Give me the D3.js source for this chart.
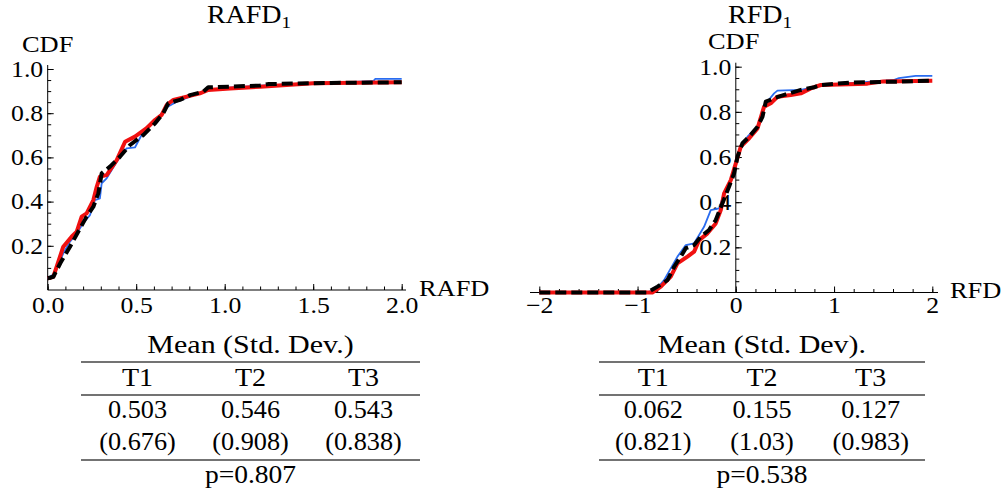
<!DOCTYPE html>
<html>
<head>
<meta charset="utf-8">
<script src="https://cdn.jsdelivr.net/npm/d3@7"></script>
<style>
  html, body { margin: 0; padding: 0; background: #fff; }
  svg { display: block; }
</style>
</head>
<body>
<svg id="chart" width="1004" height="494"></svg>
<script>
// ---------------- DATA ----------------
// RAFD empirical CDFs: [value, cdf]
const rafdT1 = [[0,0.053],[0.04,0.075],[0.088,0.166],[0.126,0.219],[0.164,0.256],[0.2,0.302],[0.239,0.339],[0.267,0.407],[0.295,0.415],[0.305,0.483],[0.333,0.505],[0.39,0.58],[0.446,0.641],[0.493,0.645],[0.54,0.716],[0.616,0.769],[0.663,0.822],[0.729,0.852],[0.804,0.875],[0.879,0.897],[0.92,0.905],[1.0,0.915],[1.2,0.925],[1.5,0.935],[1.84,0.945],[1.85,0.955],[2.0,0.955]];
const rafdT2 = [[0,0.053],[0.032,0.06],[0.088,0.196],[0.135,0.241],[0.164,0.264],[0.192,0.332],[0.22,0.347],[0.258,0.407],[0.277,0.467],[0.295,0.513],[0.333,0.52],[0.39,0.588],[0.437,0.671],[0.493,0.694],[0.559,0.732],[0.606,0.769],[0.644,0.792],[0.672,0.837],[0.71,0.86],[0.785,0.875],[0.86,0.89],[0.907,0.905],[1.03,0.912],[1.2,0.92],[1.5,0.935],[2.0,0.94]];
const rafdT3 = [[0,0.053],[0.032,0.06],[0.071,0.121],[0.126,0.196],[0.183,0.279],[0.22,0.332],[0.258,0.377],[0.286,0.437],[0.305,0.528],[0.352,0.558],[0.408,0.603],[0.465,0.656],[0.54,0.701],[0.606,0.754],[0.653,0.8],[0.681,0.845],[0.747,0.86],[0.804,0.882],[0.879,0.897],[0.907,0.917],[1.2,0.925],[1.25,0.932],[1.6,0.937],[2.0,0.94]];

// RFD empirical CDFs
const rfdT1 = [[-2,0],[-0.9,0],[-0.8,0.02],[-0.73,0.055],[-0.594,0.159],[-0.509,0.21],[-0.424,0.218],[-0.323,0.291],[-0.255,0.365],[-0.17,0.373],[-0.119,0.439],[-0.051,0.498],[0,0.572],[0.051,0.646],[0.119,0.69],[0.221,0.734],[0.288,0.823],[0.32,0.845],[0.39,0.882],[0.424,0.894],[0.66,0.897],[0.8,0.909],[0.865,0.919],[1.2,0.928],[1.6,0.94],[1.66,0.949],[1.83,0.959],[2.0,0.959]];
const rfdT2 = [[-2,0],[-0.85,0],[-0.763,0.026],[-0.662,0.07],[-0.594,0.129],[-0.492,0.159],[-0.424,0.181],[-0.373,0.232],[-0.288,0.262],[-0.204,0.306],[-0.153,0.365],[-0.119,0.439],[-0.051,0.498],[0,0.572],[0.051,0.646],[0.136,0.683],[0.221,0.727],[0.288,0.823],[0.356,0.838],[0.424,0.867],[0.56,0.875],[0.662,0.882],[0.763,0.904],[0.865,0.919],[1.34,0.925],[1.5,0.935],[2.0,0.938]];
const rfdT3 = [[-2,0],[-0.899,0],[-0.797,0.026],[-0.696,0.055],[-0.628,0.114],[-0.56,0.159],[-0.509,0.196],[-0.424,0.21],[-0.356,0.247],[-0.272,0.277],[-0.204,0.321],[-0.136,0.395],[-0.068,0.469],[-0.017,0.528],[0.017,0.601],[0.068,0.661],[0.136,0.69],[0.221,0.734],[0.272,0.779],[0.305,0.845],[0.39,0.86],[0.492,0.875],[0.662,0.897],[0.798,0.909],[0.865,0.919],[1.17,0.93],[1.68,0.934],[2.0,0.938]];

// Tick values
const rafdXTicks = [0, 0.5, 1.0, 1.5, 2.0];
const rfdXTicks = [-2, -1, 0, 1, 2];
const yTicks = [0.2, 0.4, 0.6, 0.8, 1.0];

// Table contents
const treatments = ["T1", "T2", "T3"];
const rafdMeans = ["0.503", "0.546", "0.543"];
const rafdSDs = ["(0.676)", "(0.908)", "(0.838)"];
const rafdP = "p=0.807";
const rafdTableTitle = "Mean (Std. Dev.)";
const rfdMeans = ["0.062", "0.155", "0.127"];
const rfdSDs = ["(0.821)", "(1.03)", "(0.983)"];
const rfdP = "p=0.538";
const rfdTableTitle = "Mean (Std. Dev).";

// ---------------- DRAWING ----------------
const FONT = '"Liberation Serif"';
const svg = d3.select("#chart");
const seriesStyles = [
  { color: "#2a6cf0", width: 1.8, dash: null },
  { color: "#f01010", width: 4, dash: null },
  { color: "#000000", width: 4, dash: "11,5" }
];

function txt(g, x, y, s, size, anchor, sx) {
  return g.append("text")
    .attr("x", x / sx).attr("y", y)
    .attr("transform", `scale(${sx},1)`)
    .attr("text-anchor", anchor)
    .style("font-family", FONT)
    .style("font-size", size + "px")
    .style("fill", "#000")
    .text(s);
}

function styleTickText(a) {
  a.attr("font-family", null).attr("font-size", null);
  a.selectAll("text")
    .style("font-family", FONT).style("font-size", "23px").style("fill", "#000")
    .attr("transform", "scale(1.12,1)");
  a.selectAll("line").attr("stroke", "#000");
}

function drawPanel(cfg) {
  const g = svg.append("g");
  const x = d3.scaleLinear().domain(cfg.xDomain).range(cfg.xRange);
  const y = d3.scaleLinear().domain([0, 1]).range(cfg.yRange);

  // axis lines
  g.append("line").attr("x1", cfg.xLineFrom).attr("x2", cfg.xLineTo)
    .attr("y1", y(0)).attr("y2", y(0)).attr("stroke", "#000").attr("stroke-width", 1);
  g.append("line").attr("x1", x(0)).attr("x2", x(0))
    .attr("y1", y(0)).attr("y2", y(1) - 4).attr("stroke", "#000").attr("stroke-width", 1);

  // minor ticks
  const xMinor = d3.range(Math.round(cfg.xDomain[0] / cfg.xMinorStep), Math.round(cfg.xDomain[1] / cfg.xMinorStep) + 1)
    .map(i => +(i * cfg.xMinorStep).toFixed(4));
  const yMinor = d3.range(1, 21).map(i => +(i * 0.05).toFixed(4));

  const xMinorAxis = d3.axisBottom(x).tickValues(xMinor).tickFormat("").tickSize(-3.5).tickSizeOuter(0);
  g.append("g").attr("transform", `translate(0,${y(0)})`).call(xMinorAxis)
    .call(a => a.select(".domain").remove());
  const yMinorAxis = d3.axisLeft(y).tickValues(yMinor).tickFormat("").tickSize(-3.5).tickSizeOuter(0);
  g.append("g").attr("transform", `translate(${x(0)},0)`).call(yMinorAxis)
    .call(a => a.select(".domain").remove());

  // major ticks + labels
  const xAxis = d3.axisBottom(x).tickValues(cfg.xTicks).tickFormat(d3.format(cfg.xFormat))
    .tickSize(-6).tickSizeOuter(0).tickPadding(cfg.xPad);
  g.append("g").attr("transform", `translate(0,${y(0)})`).call(xAxis)
    .call(a => a.select(".domain").remove())
    .call(styleTickText);
  const yAxis = d3.axisLeft(y).tickValues(yTicks).tickFormat(d3.format(".1f"))
    .tickSize(-6).tickSizeOuter(0).tickPadding(4);
  g.append("g").attr("transform", `translate(${x(0)},0)`).call(yAxis)
    .call(a => a.select(".domain").remove())
    .call(styleTickText);

  // curves
  const line = d3.line().x(d => x(d[0])).y(d => y(d[1]));
  cfg.series.forEach((s, i) => {
    const st = seriesStyles[i];
    g.append("path").datum(s).attr("d", line).attr("fill", "none")
      .attr("stroke", st.color).attr("stroke-width", st.width)
      .attr("stroke-linejoin", "round")
      .attr("stroke-dasharray", st.dash);
  });

  // titles and axis labels
  const t = txt(g, cfg.titleX, 23, "", 25, "middle", 1.12);
  t.append("tspan").text(cfg.title);
  t.append("tspan").style("font-size", "17px").attr("dy", 5).text("1");

  txt(g, cfg.cdfX, cfg.cdfY, "CDF", 24, "start", 1.1);
  txt(g, cfg.axLabelX, cfg.axLabelY, cfg.axLabel, 24, "start", 1.1);

  // table
  const col = d3.scaleBand().domain(treatments).range(cfg.tableRange);
  const tg = svg.append("g");
  const cx = (cfg.tableRange[0] + cfg.tableRange[1]) / 2;
  const rule = yy => tg.append("line").attr("x1", cfg.tableRange[0]).attr("x2", cfg.tableRange[1])
    .attr("y1", yy).attr("y2", yy).attr("stroke", "#444").attr("stroke-width", 1.5);
  txt(tg, cx, 353, cfg.tableTitle, 25, "middle", 1.2);
  rule(362);
  treatments.forEach((tr, i) => {
    const c = col(tr) + col.bandwidth() / 2;
    txt(tg, c, 386, tr, 25, "middle", 1.12);
    txt(tg, c, 418, cfg.means[i], 25, "middle", 1.05);
    txt(tg, c, 450, cfg.sds[i], 25, "middle", 1.05);
  });
  rule(395);
  rule(460);
  txt(tg, cx, 483, cfg.p, 25, "middle", 1.1);
}

drawPanel({
  xDomain: [0, 2], xRange: [47.7, 401.7], yRange: [290, 69],
  xLineFrom: 47.7, xLineTo: 406, xMinorStep: 0.1,
  xTicks: rafdXTicks, xFormat: ".1f", xPad: 7,
  series: [rafdT1, rafdT2, rafdT3],
  title: "RAFD", titleX: 249, cdfX: 22, cdfY: 52,
  axLabel: "RAFD", axLabelX: 419, axLabelY: 296,
  tableRange: [81, 420], tableTitle: rafdTableTitle,
  means: rafdMeans, sds: rafdSDs, p: rafdP
});

drawPanel({
  xDomain: [-2, 2], xRange: [539.3, 932.3], yRange: [292.5, 66.7],
  xLineFrom: 530, xLineTo: 938, xMinorStep: 0.2,
  xTicks: rfdXTicks, xFormat: "d", xPad: 4,
  series: [rfdT1, rfdT2, rfdT3],
  title: "RFD", titleX: 760, cdfX: 708, cdfY: 49,
  axLabel: "RFD", axLabelX: 950, axLabelY: 298,
  tableRange: [599, 925], tableTitle: rfdTableTitle,
  means: rfdMeans, sds: rfdSDs, p: rfdP
});
</script>
</body>
</html>
